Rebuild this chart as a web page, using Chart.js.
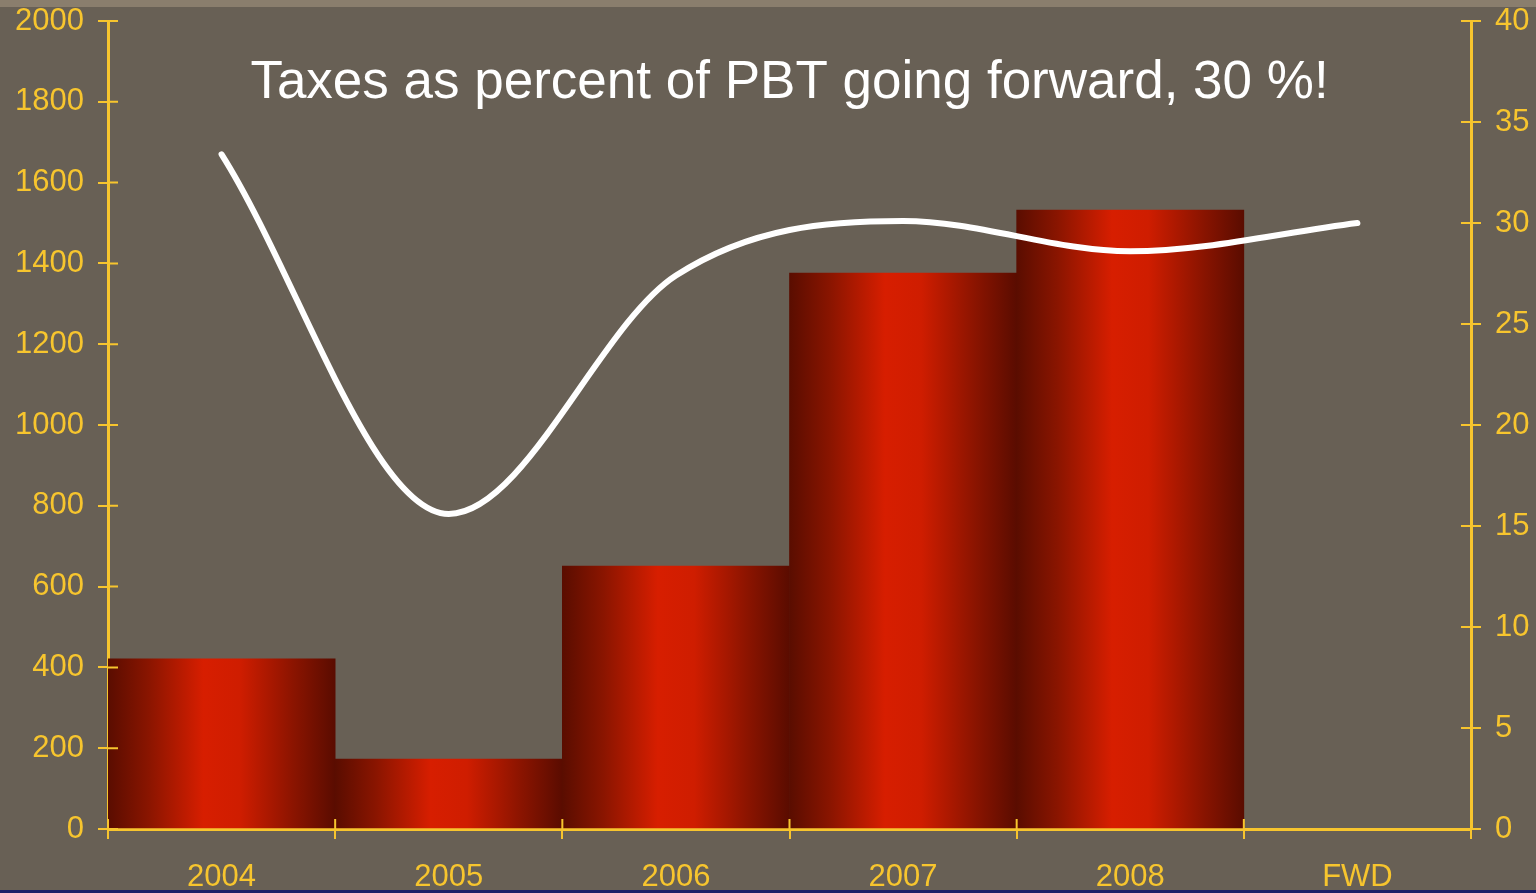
<!DOCTYPE html>
<html>
<head>
<meta charset="utf-8">
<style>
  html, body { margin: 0; padding: 0; background: #686055; }
  canvas { display: block; }
</style>
<script src="https://cdn.jsdelivr.net/npm/chart.js@4/dist/chart.umd.min.js"></script>
</head>
<body>
<canvas id="taxChart" width="1536" height="893"></canvas>
<script>
// profit before tax (bars, left axis) and tax rate in % (line, right axis)
const years = ['2004', '2005', '2006', '2007', '2008', 'FWD'];
const pbt = [421, 173, 651, 1376, 1532, null];
const taxRate = [33.4, 15.6, 27.4, 30.1, 28.6, 30.0];
const leftTicks = { min: 0, max: 2000, step: 200 };
const rightTicks = { min: 0, max: 40, step: 5 };
const title = 'Taxes as percent of PBT going forward, 30 %!';

const gold = '#f7c52e';
const tickFont = { family: '"Liberation Sans", Arial, sans-serif', size: 31 };

// dark edges, bright red just left of centre
function barGradient(ctx) {
  const chart = ctx.chart;
  const xs = chart.scales.x;
  if (!chart.chartArea || !xs || ctx.dataIndex === undefined) return '#c81c00';
  const w = (xs.right - xs.left) / years.length;
  const cx = xs.getPixelForValue(ctx.dataIndex);
  const g = chart.ctx.createLinearGradient(cx - w / 2, 0, cx + w / 2, 0);
  g.addColorStop(0, '#5a0d00');
  g.addColorStop(0.18, '#8a1500');
  g.addColorStop(0.42, '#d71e00');
  g.addColorStop(0.58, '#cf1d00');
  g.addColorStop(0.82, '#8a1400');
  g.addColorStop(1, '#5a0c00');
  return g;
}

const frame = {
  id: 'frame',
  beforeDraw(chart) {
    const c = chart.ctx;
    c.save();
    c.fillStyle = '#686055';
    c.fillRect(0, 0, chart.width, chart.height);
    c.fillStyle = '#8a7e6d';
    c.fillRect(0, 0, chart.width, 7);
    c.fillStyle = '#1e1e66';
    c.fillRect(0, chart.height - 3, chart.width, 3);
    c.restore();
  },
  afterDraw(chart) {
    const c = chart.ctx;
    const { x, y, y1 } = chart.scales;
    c.save();
    // tick marks continue inside the plot
    c.strokeStyle = gold;
    c.lineWidth = 2;
    c.beginPath();
    y.ticks.forEach(t => {
      const py = y.getPixelForValue(t.value);
      c.moveTo(y.right, py); c.lineTo(y.right + 10, py);
    });
    y1.ticks.forEach(t => {
      const py = y1.getPixelForValue(t.value);
      c.moveTo(y1.left - 10, py); c.lineTo(y1.left, py);
    });
    const w = (x.right - x.left) / years.length;
    for (let i = 0; i <= years.length; i++) {
      const px = x.left + i * w;
      c.moveTo(px, x.top - 10); c.lineTo(px, x.top);
    }
    c.stroke();
    // headline
    const area = chart.chartArea;
    c.fillStyle = '#ffffff';
    c.font = '53px "Liberation Sans", Arial, sans-serif';
    c.textAlign = 'center';
    c.textBaseline = 'alphabetic';
    c.fillText(title, (area.left + area.right) / 2, 98);
    c.restore();
  }
};

const plain = v => String(v);

// fixed axis sizes, labels allowed to overflow the top edge
function fitY(width) {
  return s => {
    s.width = width;
    s.paddingTop = 0;
    s.paddingBottom = 0;
  };
}

new Chart(document.getElementById('taxChart'), {
  type: 'bar',
  data: {
    labels: years,
    datasets: [
      {
        type: 'line',
        label: 'Tax %',
        data: taxRate,
        yAxisID: 'y1',
        borderColor: '#ffffff',
        borderWidth: 6,
        borderCapStyle: 'round',
        pointRadius: 0,
        cubicInterpolationMode: 'monotone',
        order: 0
      },
      {
        label: 'PBT',
        data: pbt,
        yAxisID: 'y',
        backgroundColor: barGradient,
        barPercentage: 1,
        categoryPercentage: 1,
        order: 1
      }
    ]
  },
  options: {
    responsive: false,
    animation: false,
    layout: { padding: { top: 21 } },
    plugins: {
      legend: { display: false },
      tooltip: { enabled: false }
    },
    scales: {
      x: {
        z: 1,
        grid: { drawOnChartArea: false, tickLength: 10, color: gold, lineWidth: 2 },
        border: { color: gold, width: 3 },
        ticks: { color: gold, font: tickFont, padding: 20 },
        afterFit: s => { s.height = 64; s.paddingLeft = 0; s.paddingRight = 0; }
      },
      y: {
        z: 1,
        min: leftTicks.min,
        max: leftTicks.max,
        grid: { drawOnChartArea: false, tickLength: 10, color: gold, lineWidth: 2 },
        border: { color: gold, width: 3 },
        ticks: { stepSize: leftTicks.step, color: gold, font: tickFont, padding: 14, callback: plain },
        afterFit: fitY(108)
      },
      y1: {
        z: 1,
        position: 'right',
        min: rightTicks.min,
        max: rightTicks.max,
        grid: { drawOnChartArea: false, tickLength: 10, color: gold, lineWidth: 2 },
        border: { color: gold, width: 3 },
        ticks: { stepSize: rightTicks.step, color: gold, font: tickFont, padding: 14, callback: plain },
        afterFit: fitY(65)
      }
    }
  },
  plugins: [frame]
});
</script>
</body>
</html>
